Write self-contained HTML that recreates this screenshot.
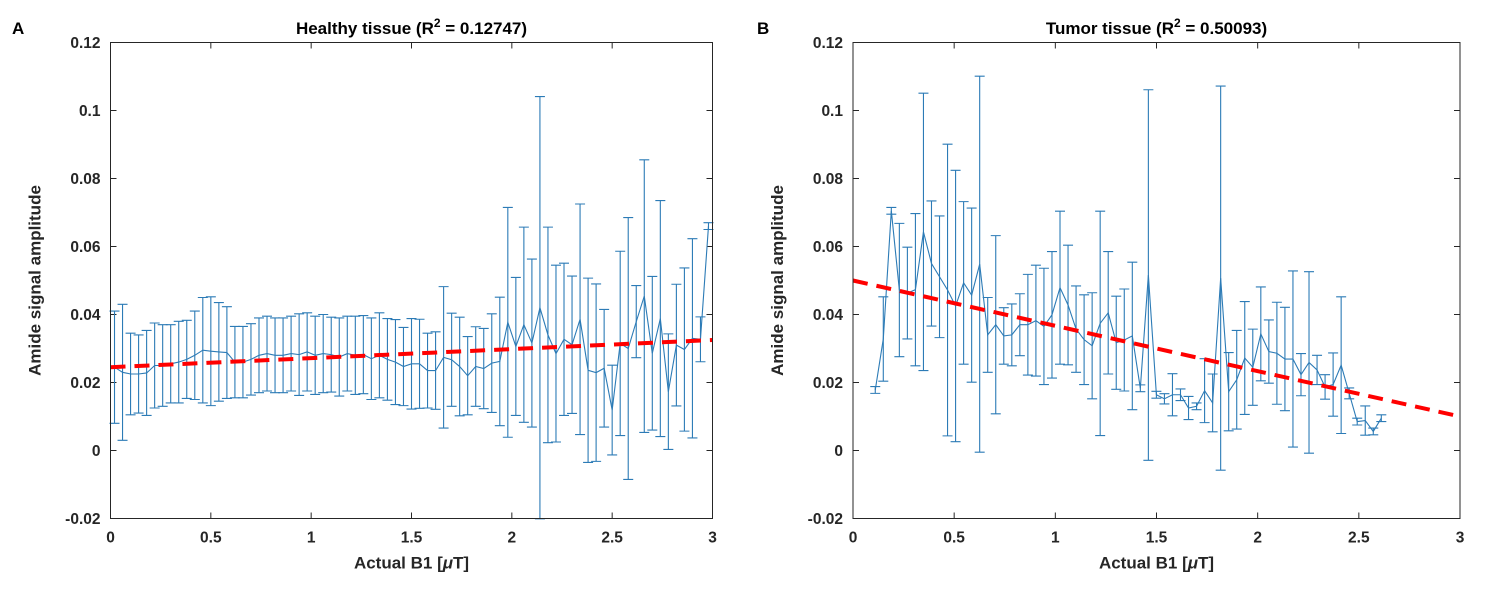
<!DOCTYPE html>
<html><head><meta charset="utf-8">
<style>
html,body{margin:0;padding:0;background:#fff;}
svg text{font-family:"Liberation Sans",Arial,sans-serif;}
</style></head>
<body>
<svg id="fig" width="1493" height="584" xmlns="http://www.w3.org/2000/svg">
  <text x="12" y="34" font-size="17" font-weight="bold" fill="#000">A</text>
  <text x="757" y="34" font-size="17" font-weight="bold" fill="#000">B</text>
  <g id="pa"></g>
  <g id="pb"></g>
</svg>
<script>
const yTicks = [-0.02, 0, 0.02, 0.04, 0.06, 0.08, 0.1, 0.12];
const yTickLabels = ["-0.02", "0", "0.02", "0.04", "0.06", "0.08", "0.1", "0.12"];
const xTicks = [0, 0.5, 1, 1.5, 2, 2.5, 3];
const xTickLabels = ["0", "0.5", "1", "1.5", "2", "2.5", "3"];

// Panel A (healthy) - x from 0.02 step 0.04
const healthyMean = [.0245,.023,.0225,.0225,.0228,.025,.025,.0255,.026,.0268,.028,.0295,.0292,.029,.0288,.026,.026,.0268,.028,.0285,.028,.028,.0285,.0282,.029,.028,.0285,.0282,.0275,.0285,.028,.0282,.027,.028,.0268,.026,
 .0247,.0255,.0255,.0235,.0235,.0274,.0267,.0247,.0220,.0247,.0241,.0257,.0262,.0377,.0306,.0370,.0316,.0420,.0340,.0285,.0327,.0311,.0386,.0236,
 .0229,.0242,.0119,.0315,.0300,.0379,.0454,.0286,.0388,.0173,.0310,.0297,.0330,.0327,.0660];
const healthyErr = [.0165,.020,.012,.0115,.0125,.0125,.012,.0115,.012,.0115,.013,.0155,.016,.0145,.0135,.0105,.0105,.0105,.011,.011,.011,.011,.011,.012,.0115,.0115,.0115,.011,.0115,.011,.0115,.0115,.012,.0125,.012,.0125,
 .0115,.0133,.0131,.011,.0114,.0208,.0137,.0145,.0115,.0117,.0118,.0145,.0189,.0338,.0203,.0287,.0247,.0621,.0317,.026,.0224,.0202,.0339,.0271,
 .0261,.0173,.0132,.0271,.0385,.0106,.0401,.0226,.0347,.0170,.0179,.0240,.0293,.0066,.001];
const healthyX0 = 0.02, healthyStep = 0.04;
const healthyFit = [0.0245, 0.0325]; // value at x=0 and x=3

// Panel B (tumor) - x from 0.11 step 0.0397
const tumorMean = [.0178,.0328,.0705,.0472,.0463,.0473,.0643,.0550,.0511,.0472,.0425,.0493,.0457,.0548,.0340,.0370,.0337,.0340,.0370,.0370,.0382,.0365,.0399,.0479,.0428,.0357,.0326,.0308,.0374,.0405,.0317,.0325,.0337,.0183,.0516,
 .0164,.0152,.0164,.0164,.0125,.0130,.0176,.0140,.0507,.0173,.0208,.0272,.0245,.0343,.0291,.0286,.0269,.0269,.0223,.0259,.0237,.0187,.0194,.0251,.0168,.0085,.0088,.0056,.0095];
const tumorErr = [.001,.0124,.001,.0196,.0135,.0224,.0408,.0184,.0179,.0429,.0399,.0239,.0256,.0553,.0110,.0262,.0083,.0091,.0091,.0148,.0163,.0171,.0186,.0225,.0176,.0127,.0132,.0156,.033,.018,.0137,.015,.0217,.001,.0545,
 .001,.0015,.0062,.0017,.0034,.001,.0094,.0085,.0565,.0115,.0145,.0166,.0112,.0138,.0093,.015,.0152,.0259,.0062,.0267,.0043,.0036,.0093,.0201,.0016,.001,.0043,.001,.001];
const tumorX0 = 0.11, tumorStep = 0.0397;
const tumorFit = [0.0500, 0.0100];

const NS = "http://www.w3.org/2000/svg";
function mk(tag, attrs, parent){const e=document.createElementNS(NS,tag);for(const k in attrs)e.setAttribute(k,attrs[k]);parent.appendChild(e);return e;}

function drawPanel(g, left, right, title, titleSup, titleRest, means, errs, x0, step, fit, key){
  const top=42.5, bottom=518.5;
  const xs = v => left + (v/3)*(right-left);
  const ys = v => top + (0.12 - v)/0.14*(bottom-top);
  yTicks.forEach((t,i)=>{
    const y=ys(t);
    const l1=mk('line',{x1:left,y1:y,x2:left+6,y2:y,stroke:'#262626','stroke-width':1},g);
    
    
    mk('line',{x1:right,y1:y,x2:right-6,y2:y,stroke:'#262626','stroke-width':1},g);
    const tx=mk('text',{x:left-10,y:y+5.5,'font-size':'15.5','font-weight':'bold',fill:'#262626','text-anchor':'end'},g);
    tx.textContent=yTickLabels[i];
    
    
  });
  xTicks.forEach((t,i)=>{
    const x=xs(t);
    const l1=mk('line',{x1:x,y1:bottom,x2:x,y2:bottom-6,stroke:'#262626','stroke-width':1},g);
    
    
    mk('line',{x1:x,y1:top,x2:x,y2:top+6,stroke:'#262626','stroke-width':1},g);
    const tx=mk('text',{x:x,y:bottom+24,'font-size':'15.5','font-weight':'bold',fill:'#262626','text-anchor':'middle'},g);
    tx.textContent=xTickLabels[i];
    
    
  });
  const cw=5;
  let pts=[];
  means.forEach((m,i)=>{
    const xv=x0+i*step, x=xs(xv), e=errs[i];
    const yt=ys(m+e), yb=ys(m-e);
    const eb=mk('path',{d:`M${x},${yt}V${yb}M${x-cw},${yt}H${x+cw}M${x-cw},${yb}H${x+cw}`,stroke:'#2c7bb6','stroke-width':1.1,fill:'none'},g);
    
    
    pts.push(x.toFixed(2)+','+ys(m).toFixed(2));
  });
  const pl=mk('polyline',{points:pts.join(' '),stroke:'#2c7bb6','stroke-width':1.1,fill:'none'},g);
  
  
  const fl=mk('line',{x1:xs(0),y1:ys(fit[0]),x2:xs(3),y2:ys(fit[1]),stroke:'#ff0000','stroke-width':4,'stroke-dasharray':'15 9'},g);
  
  
  const box=mk('rect',{x:left,y:top,width:right-left,height:bottom-top,fill:'none',stroke:'#262626','stroke-width':1},g);
  
  
  const tt=mk('text',{x:(left+right)/2,y:34,'font-size':'17','font-weight':'bold',fill:'#000','text-anchor':'middle'},g);
  tt.innerHTML=title+'<tspan dy="-7" font-size="12">'+titleSup+'</tspan><tspan dy="7">'+titleRest+'</tspan>';
  
  
  const xl=mk('text',{x:(left+right)/2,y:bottom+50,'font-size':'17','font-weight':'bold',fill:'#262626','text-anchor':'middle'},g);
  xl.innerHTML='Actual B1 [<tspan font-style="italic">μ</tspan>T]';
  
  
  const yl=mk('text',{x:0,y:0,'font-size':'17','font-weight':'bold',fill:'#262626','text-anchor':'middle',transform:`translate(${left-70},${(top+bottom)/2}) rotate(-90)`},g);
  yl.textContent='Amide signal amplitude';
  
  
}
drawPanel(document.getElementById('pa'),110.5,712.5,'Healthy tissue (R','2',' = 0.12747)',healthyMean,healthyErr,healthyX0,healthyStep,healthyFit,'healthy');
drawPanel(document.getElementById('pb'),853,1460,'Tumor tissue (R','2',' = 0.50093)',tumorMean,tumorErr,tumorX0,tumorStep,tumorFit,'tumor');
</script>
</body></html>
